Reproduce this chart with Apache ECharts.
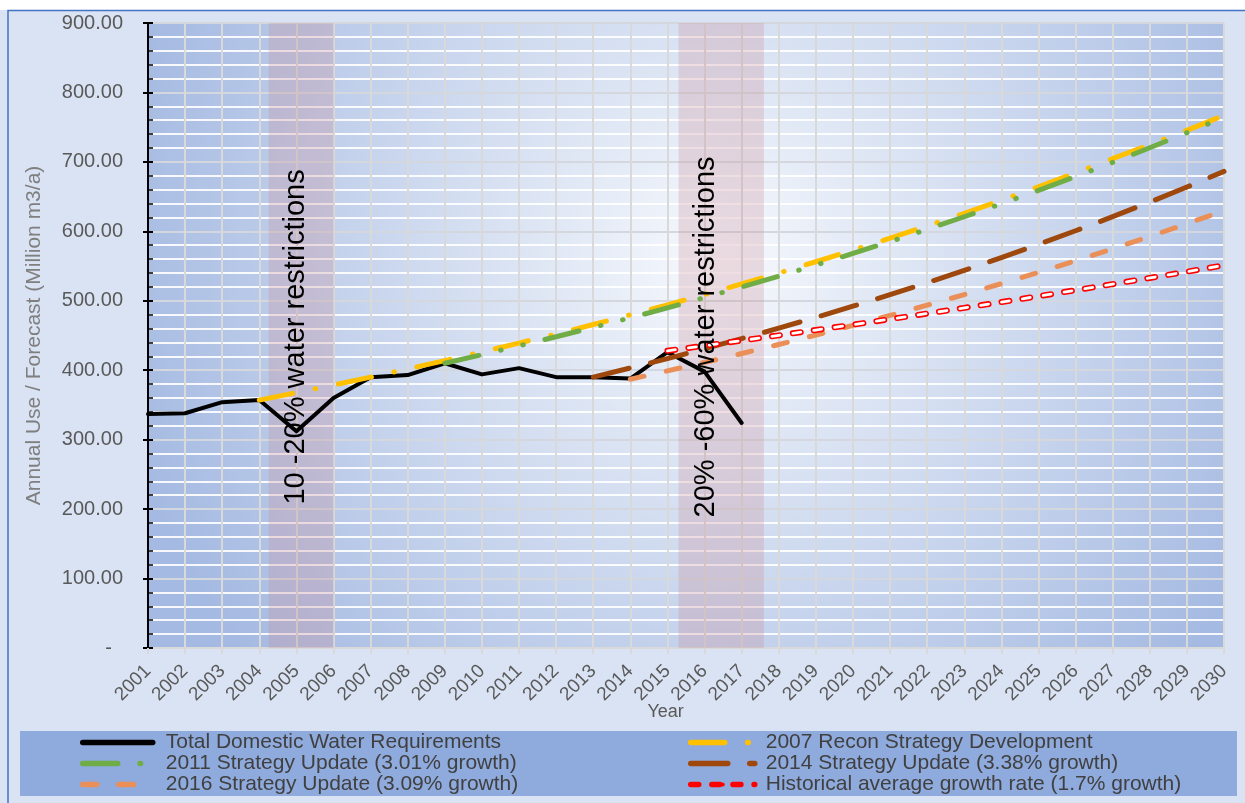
<!DOCTYPE html>
<html>
<head>
<meta charset="utf-8">
<script src="https://cdn.jsdelivr.net/npm/echarts@6/dist/echarts.min.js"></script>
<style>
html,body{margin:0;padding:0;background:#DAE3F3;}
#c{width:1245px;height:803px;}
</style>
</head>
<body>
<div id="c"></div>
<script>
// ---------- DATA ----------
const years = ['2001','2002','2003','2004','2005','2006','2007','2008','2009','2010',
  '2011','2012','2013','2014','2015','2016','2017','2018','2019','2020',
  '2021','2022','2023','2024','2025','2026','2027','2028','2029','2030'];
const yTickLabels = ['-  ','100.00','200.00','300.00','400.00','500.00','600.00','700.00','800.00','900.00'];

const seriesNames = [
  'Total Domestic Water Requirements',
  '2007 Recon Strategy Development',
  '2011 Strategy Update (3.01% growth)',
  '2014 Strategy Update (3.38% growth)',
  '2016 Strategy Update (3.09% growth)',
  'Historical average growth rate (1.7% growth)'
];

// Total domestic use, 2001-2017
const totalDomesticStart = '2001';
const totalDomestic = [337, 338, 354, 357, 312, 360, 390, 393, 410, 394, 403, 390, 390, 388, 426, 398, 324];

// 2007 Recon Strategy, 2004-2030
const recon2007Start = '2004';
const recon2007 = [357, 367.7, 378.7, 390.1, 401.8, 413.9, 426.3, 439.1, 452.2, 465.8, 479.8, 494.2, 509.0,
  524.3, 540.0, 556.2, 572.9, 590.1, 607.8, 626.0, 644.8, 664.2, 684.1, 704.6, 725.0, 745.5, 767.0];

// 2011 Strategy Update, 2009-2030
const update2011Start = '2009';
const update2011 = [410, 422.3, 435.1, 448.2, 461.6, 475.5, 489.8, 504.6, 519.8, 535.4, 551.5, 568.1,
  585.2, 602.9, 621.0, 639.7, 659.0, 678.8, 699.2, 720.3, 742.0, 764.3];

// 2014 Strategy Update, 2013-2030
const update2014Start = '2013';
const update2014 = [390, 403.2, 416.8, 430.9, 445.5, 460.5, 476.1, 492.2, 508.8, 526.0, 543.8, 562.2,
  581.2, 600.8, 621.1, 642.1, 663.8, 686.3];

// 2016 Strategy Update, 2014-2030
const update2016Start = '2014';
const update2016 = [387, 399.0, 411.3, 424.0, 437.1, 450.6, 464.5, 478.9, 493.7, 508.9, 524.7, 540.9,
  557.6, 574.8, 592.6, 610.9, 629.8];

// Historical average growth, 2015-2030
const historicalStart = '2015';
const historical = [428, 435.3, 442.7, 450.2, 457.9, 465.6, 473.6, 481.6, 489.8, 498.1, 506.6, 515.2,
  524.0, 532.9, 541.9, 551.1];

// Restriction periods (year positions) and their notes
const bandStarts = [2004.25, 2015.3];
const bandEnds = [2006.0, 2017.6];
const bandNotes = ['10 -20% water restrictions', '20% -60% water restrictions'];
const bandNoteYears = [2005.0, 2016.05];
const bandNoteValue = 448;

// ---------- HELPERS ----------
function pad(start, vals) {
  const s = years.indexOf(start);
  return years.map((y, i) => {
    const k = i - s;
    return (k >= 0 && k < vals.length) ? vals[k] : null;
  });
}

const FONT = "'Liberation Sans', Arial, sans-serif";

function lineSeries(name, data, color, width, type, z) {
  return {
    name: name, type: 'line', data: data, symbol: 'none', showSymbol: false,
    connectNulls: false, z: z, silent: true,
    lineStyle: { color: color, width: width, type: type, cap: 'round', join: 'round' },
    itemStyle: { color: color }
  };
}

const chart = echarts.init(document.getElementById('c'), null, { renderer: 'canvas', width: 1245, height: 803 });

const legendText = { fontSize: 21, lineHeight: 21, color: '#404040', fontFamily: FONT };

const option = {
  animation: false,
  backgroundColor: '#DAE3F3',
  textStyle: { fontFamily: FONT },
  grid: {
    left: 148, top: 23, right: 21, bottom: 155, show: true, borderWidth: 0,
    backgroundColor: {
      type: 'radial', x: 0.53, y: 0.38, r: 0.98,
      colorStops: [
        { offset: 0, color: '#F7F9FD' },
        { offset: 0.35, color: '#DAE3F3' },
        { offset: 1, color: '#A5BAE2' }
      ]
    }
  },
  xAxis: [{
    type: 'category', data: years, boundaryGap: false,
    axisLine: { show: true, lineStyle: { color: '#D9D9D9', width: 2 } },
    axisTick: { show: true, length: 6, interval: 0, lineStyle: { color: '#D9D9D9', width: 2 } },
    axisLabel: { interval: 0, rotate: 45, margin: 20, fontSize: 19, color: '#595959', fontFamily: FONT },
    splitLine: { show: true, interval: 0, lineStyle: { color: '#D9D9D9', width: 2 } }
  }, {
    type: 'value', min: 2001, max: 2030, show: false
  }],
  yAxis: [{
    type: 'value', min: 0, max: 900, interval: 100,
    name: 'Annual Use / Forecast (Million m3/a)', nameLocation: 'middle', nameRotate: 90, nameGap: 103,
    nameTextStyle: { fontSize: 21, color: '#7F7F7F', fontFamily: FONT },
    axisLine: { show: true, lineStyle: { color: '#000', width: 2 } },
    axisTick: { show: true, inside: false, length: 5, lineStyle: { color: '#000', width: 2 } },
    axisLabel: {
      fontSize: 20, color: '#595959', margin: 25, fontFamily: FONT,
      formatter: v => yTickLabels[Math.round(v / 100)]
    },
    splitLine: { show: true, lineStyle: { color: '#D4D8DE', width: 2 } },
    minorTick: { show: false, splitNumber: 5 },
    minorSplitLine: { show: true, lineStyle: { color: '#FFFFFF', width: 2, opacity: 0.9 } }
  }, {
    type: 'value', min: 0, max: 900, interval: 100, position: 'left', offset: 0,
    axisLine: { show: false },
    axisTick: { show: true, inside: true, length: 5, lineStyle: { color: '#000', width: 2 } },
    minorTick: { show: true, splitNumber: 5, length: 5, lineStyle: { color: '#000', width: 1.5 } },
    axisLabel: { show: false },
    splitLine: { show: false }
  }],
  legend: [{
    data: [seriesNames[0], seriesNames[2], seriesNames[4]],
    orient: 'vertical', left: 80, top: 732, height: 70, padding: 0,
    itemWidth: 70, itemHeight: 5, itemGap: 0,
    selectedMode: false,
    lineStyle: { width: 5.5 },
    textStyle: Object.assign({ padding: [0, 0, 0, 8] }, legendText)
  }, {
    data: [seriesNames[1], seriesNames[3], seriesNames[5]],
    orient: 'vertical', left: 688, top: 732, height: 70, padding: 0,
    itemWidth: 64, itemHeight: 5, itemGap: 0,
    selectedMode: false,
    lineStyle: { width: 5.5 },
    textStyle: Object.assign({ padding: [0, 0, 0, 6] }, legendText)
  }],
  graphic: [],
  series: [
    {
      name: 'bands', type: 'line', xAxisIndex: 1, data: [], symbol: 'none', silent: true, z: 1,
      markArea: {
        silent: true,
        itemStyle: { color: 'rgba(200,140,150,0.28)' },
        data: bandStarts.map((s, i) => [{ xAxis: s }, { xAxis: bandEnds[i] }])
      }
    },
    lineSeries(seriesNames[0], pad(totalDomesticStart, totalDomestic), '#000000', 4, 'solid', 3),
    lineSeries(seriesNames[1], pad(recon2007Start, recon2007), '#FFC000', 5, [34, 23, 0.5, 23], 4),
    lineSeries(seriesNames[2], pad(update2011Start, update2011), '#70AD47', 5, [35, 22.3, 0.5, 22.3, 0.5, 22.3], 5),
    lineSeries(seriesNames[3], pad(update2014Start, update2014), '#9E480E', 5, [37, 22], 6),
    lineSeries(seriesNames[4], pad(update2016Start, update2016), '#EB8F58', 5, [14, 22.8], 7),
    lineSeries(seriesNames[5], pad(historicalStart, historical), '#FF0000', 6, [8, 13.1], 8),
    lineSeries('historical-inner', pad(historicalStart, historical), '#FFFFFF', 2.8, [8, 13.1], 9)
  ]
};

chart.setOption(option);

// Place annotation texts via axis scales
const notes = bandNotes.map((t, i) => {
  const p = chart.convertToPixel({ xAxisIndex: 1, yAxisIndex: 0 }, [bandNoteYears[i], bandNoteValue]);
  return {
    type: 'text', x: p[0], y: p[1], rotation: Math.PI / 2, z: 100,
    style: { text: t, fontSize: 29, fontFamily: FONT, fill: '#000', align: 'center', verticalAlign: 'middle' }
  };
});
const yearPos = chart.convertToPixel({ xAxisIndex: 1, yAxisIndex: 0 }, [2014.95, 0]);

chart.setOption({
  graphic: [
    { type: 'rect', z: -10, silent: true, shape: { x: 0, y: 0, width: 1245, height: 10 }, style: { fill: '#FFFFFF' } },
    { type: 'rect', z: -10, silent: true, shape: { x: 8, y: 10.5, width: 1400, height: 900 },
      style: { fill: 'none', stroke: '#4472C4', lineWidth: 1.5 } },
    { type: 'rect', z: -5, silent: true, shape: { x: 20, y: 731, width: 1217, height: 65 }, style: { fill: '#8FAADC' } },
    { type: 'text', z: 100, silent: true, x: yearPos[0], y: 712,
      style: { text: 'Year', fontSize: 18, fontFamily: FONT, fill: '#595959', align: 'center', verticalAlign: 'middle' } }
  ].concat(notes)
});
</script>
</body>
</html>
